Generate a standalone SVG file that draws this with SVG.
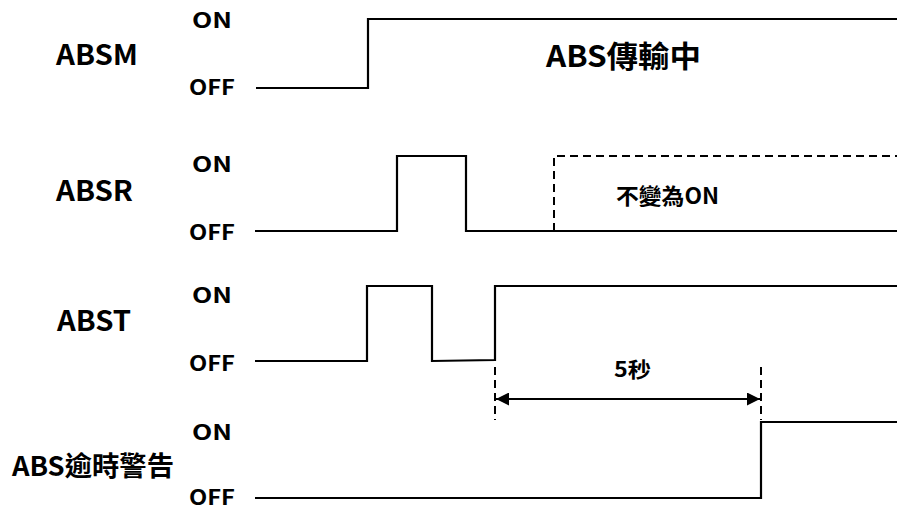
<svg xmlns="http://www.w3.org/2000/svg" width="897" height="511" viewBox="0 0 897 511">
<style>
text{font-family:"Noto Sans CJK TC","Noto Sans",sans-serif;font-weight:bold;fill:#000}
.lbl{font-size:28px}
.st{font-size:21px}
.sig{fill:none;stroke:#000;stroke-width:2.2}
.dash{fill:none;stroke:#000;stroke-width:2;stroke-dasharray:8,5}
</style>
<defs>
<marker id="ah" viewBox="0 0 10 10" refX="10" refY="5" markerWidth="17" markerHeight="13" markerUnits="userSpaceOnUse" orient="auto-start-reverse">
<path d="M0,0L10,5L0,10z" fill="#000"/>
</marker>
</defs>
<g id="absm">
<text class="lbl" x="56" y="65" textLength="82" lengthAdjust="spacingAndGlyphs">ABSM</text>
<text class="st" x="192" y="28" textLength="40" lengthAdjust="spacingAndGlyphs">ON</text>
<text class="st" x="189" y="95" textLength="46" lengthAdjust="spacingAndGlyphs">OFF</text>
<text x="546" y="67" font-size="30" textLength="155" lengthAdjust="spacingAndGlyphs">ABS傳輸中</text>
</g>
<g id="absr">
<text class="lbl" x="56" y="201" textLength="77" lengthAdjust="spacingAndGlyphs">ABSR</text>
<text class="st" x="192" y="172" textLength="40" lengthAdjust="spacingAndGlyphs">ON</text>
<text class="st" x="189" y="240" textLength="46" lengthAdjust="spacingAndGlyphs">OFF</text>
<text x="616" y="204" font-size="22" textLength="103" lengthAdjust="spacingAndGlyphs">不變為ON</text>
</g>
<g id="abst">
<text class="lbl" x="57" y="331" textLength="74" lengthAdjust="spacingAndGlyphs">ABST</text>
<text class="st" x="192" y="303" textLength="40" lengthAdjust="spacingAndGlyphs">ON</text>
<text class="st" x="189" y="371" textLength="46" lengthAdjust="spacingAndGlyphs">OFF</text>
<text x="614" y="377" font-size="21" textLength="37" lengthAdjust="spacingAndGlyphs">5秒</text>
</g>
<g id="abstimeout">
<text x="12" y="476" font-size="27" textLength="162" lengthAdjust="spacingAndGlyphs">ABS逾時警告</text>
<text class="st" x="192" y="440" textLength="40" lengthAdjust="spacingAndGlyphs">ON</text>
<text class="st" x="189" y="505" textLength="46" lengthAdjust="spacingAndGlyphs">OFF</text>
</g>
<g id="connectors">
<polyline class="sig" points="256,88 368,88 368,19 897,19"/>
<polyline class="sig" points="255,231 397,231 397,156 466,156 466,231 897,231"/>
<polyline class="dash" points="554,231 554,156 897,156"/>
<polyline class="sig" points="255,361 367,361 367,286 432,286 432,361 495,360 495,286 897,286"/>
<polyline class="sig" points="255,498 761,498 761,422 897,422"/>
<line class="dash" x1="495" y1="367" x2="495" y2="420"/>
<line class="dash" x1="761" y1="367" x2="761" y2="420"/>
<line x1="496" y1="399" x2="760" y2="399" stroke="#000" stroke-width="2" marker-start="url(#ah)" marker-end="url(#ah)"/>
</g>
</svg>
